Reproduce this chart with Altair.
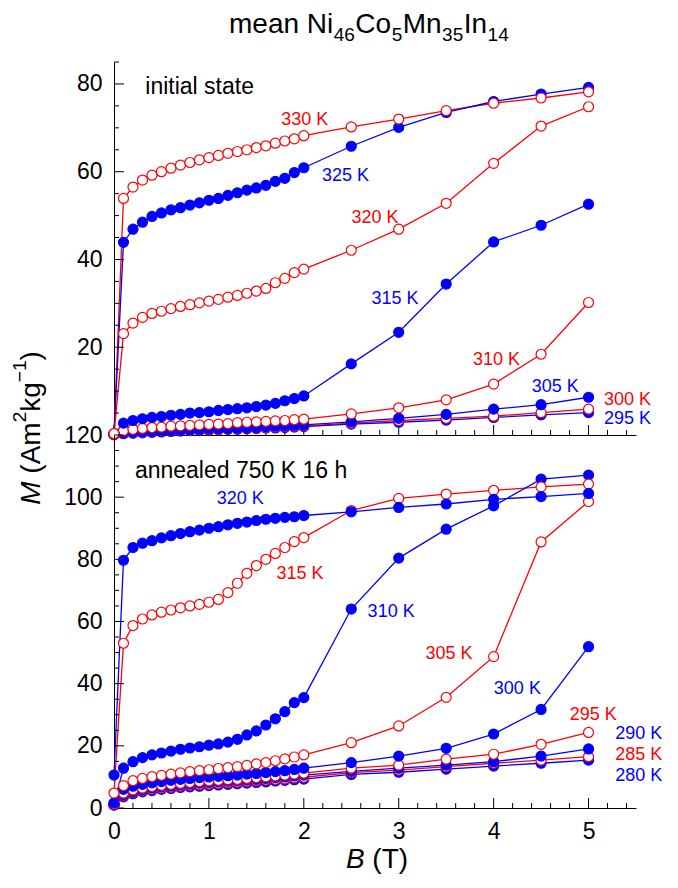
import altair as alt
import pandas as pd

FONT = "Liberation Sans"
W_PLOT = 522
H_PLOT = 373
LEFT = 114   # absolute x of plot left edge
TOP = 62     # absolute y of top panel top edge

RED = "#ff0000"
BLUE = "#0000ff"

# ---------------- data ----------------
B = [0.0, 0.1, 0.2, 0.3, 0.4, 0.5, 0.6, 0.7, 0.8, 0.9, 1.0, 1.1, 1.2, 1.3, 1.4,
     1.5, 1.6, 1.7, 1.8, 1.9, 2.0, 2.5, 3.0, 3.5, 4.0, 4.5, 5.0]

# initial state
init_330 = [0.3, 53.9, 56.5, 58.1, 59.2, 60.0, 60.8, 61.5, 62.1, 62.7, 63.2, 63.7, 64.2, 64.6,
            65.0, 65.5, 65.9, 66.5, 67.0, 67.5, 68.2, 70.2, 72.0, 73.9, 75.6, 76.8, 78.2]
init_325 = [0.3, 43.9, 46.9, 48.5, 49.8, 50.6, 51.3, 51.8, 52.4, 52.9, 53.5, 53.9, 54.6, 55.2,
            55.8, 56.3, 56.9, 57.8, 58.5, 59.8, 60.9, 65.8, 70.1, 73.5, 76.0, 77.7, 79.2]
init_320 = [0.2, 23.1, 25.5, 26.8, 27.7, 28.2, 28.8, 29.3, 29.7, 30.1, 30.5, 30.9, 31.4, 31.8,
            32.3, 32.8, 33.4, 34.7, 35.7, 37.0, 37.8, 42.1, 46.9, 52.8, 61.9, 70.4, 74.8]
init_315 = [0.2, 2.7, 3.3, 3.7, 4.0, 4.2, 4.5, 4.7, 5.0, 5.1, 5.3, 5.6, 5.8, 6.0,
            6.2, 6.5, 6.8, 7.2, 7.8, 8.3, 8.9, 16.2, 23.4, 34.4, 44.0, 47.8, 52.6]
init_310 = [0.1, 1.0, 1.3, 1.5, 1.7, 1.8, 2.0, 2.1, 2.2, 2.3, 2.4, 2.5, 2.6, 2.8,
            2.9, 3.0, 3.1, 3.2, 3.3, 3.5, 3.6, 4.8, 6.2, 8.0, 11.6, 18.4, 30.2]
init_305 = [0.1, 0.5, 0.6, 0.7, 0.8, 0.9, 1.0, 1.1, 1.2, 1.3, 1.4, 1.5, 1.5, 1.6,
            1.7, 1.8, 1.9, 2.0, 2.1, 2.2, 2.3, 3.0, 3.8, 4.7, 5.9, 6.9, 8.6]
init_300 = [0.1, 0.4, 0.5, 0.6, 0.7, 0.8, 0.9, 1.0, 1.1, 1.2, 1.2, 1.3, 1.4, 1.5,
            1.6, 1.7, 1.7, 1.8, 1.9, 2.0, 2.1, 2.7, 3.3, 3.8, 4.3, 5.1, 5.9]
init_295 = [0.1, 0.3, 0.4, 0.5, 0.6, 0.7, 0.8, 0.9, 1.0, 1.0, 1.1, 1.2, 1.3, 1.3,
            1.4, 1.5, 1.6, 1.6, 1.7, 1.8, 1.9, 2.5, 2.9, 3.4, 4.0, 4.6, 5.1]

# annealed 750 K 16 h
ann_320 = [10.6, 79.7, 83.8, 85.2, 86.0, 86.9, 87.6, 88.3, 88.9, 89.4, 90.0, 90.5, 91.1, 91.6,
           92.0, 92.5, 92.9, 93.2, 93.5, 93.7, 94.1, 95.3, 96.7, 97.8, 99.3, 100.2, 101.2]
ann_315 = [4.8, 53.0, 58.7, 60.8, 62.1, 63.0, 63.7, 64.4, 65.0, 65.5, 66.2, 67.1, 69.3, 72.3,
           75.5, 78.0, 80.0, 81.9, 83.8, 85.7, 87.0, 95.7, 99.6, 101.0, 102.2, 103.3, 104.2]
ann_310 = [1.6, 12.8, 14.9, 16.2, 17.1, 17.7, 18.3, 18.9, 19.3, 19.7, 20.2, 20.6, 21.2, 22.1,
           23.5, 24.8, 26.7, 28.7, 31.0, 33.9, 35.5, 64.0, 80.4, 89.7, 97.2, 105.8, 107.1]
ann_305 = [1.2, 7.2, 8.8, 9.5, 10.1, 10.5, 10.9, 11.3, 11.7, 12.0, 12.3, 12.7, 13.0, 13.3,
           13.7, 14.2, 14.6, 15.2, 15.8, 16.4, 17.1, 21.0, 26.4, 35.6, 48.7, 85.6, 98.6]
ann_300 = [1.0, 6.0, 7.0, 7.6, 8.1, 8.5, 8.9, 9.2, 9.5, 9.8, 10.0, 10.2, 10.4, 10.6,
           10.9, 11.1, 11.4, 11.7, 12.0, 12.4, 12.8, 14.6, 16.7, 19.2, 23.8, 31.7, 51.9]
ann_295 = [1.0, 4.8, 5.8, 6.4, 6.9, 7.3, 7.6, 7.9, 8.2, 8.5, 8.7, 8.9, 9.1, 9.2,
           9.5, 9.8, 10.0, 10.3, 10.6, 10.9, 11.2, 12.8, 13.8, 15.7, 17.3, 20.5, 24.3]
ann_290 = [1.0, 4.3, 5.3, 5.9, 6.4, 6.8, 7.1, 7.4, 7.7, 8.0, 8.2, 8.4, 8.6, 8.8,
           9.0, 9.2, 9.5, 9.8, 10.0, 10.3, 10.6, 11.8, 12.8, 13.8, 14.9, 16.7, 19.0]
ann_285 = [1.0, 4.0, 5.0, 5.6, 6.0, 6.4, 6.7, 7.0, 7.3, 7.5, 7.7, 7.9, 8.1, 8.3,
           8.5, 8.7, 9.0, 9.2, 9.4, 9.7, 9.9, 11.4, 12.2, 13.3, 14.4, 15.4, 16.5]
ann_280 = [1.0, 3.6, 4.6, 5.2, 5.6, 6.0, 6.3, 6.6, 6.8, 7.0, 7.2, 7.4, 7.6, 7.8,
           8.0, 8.2, 8.4, 8.7, 8.9, 9.1, 9.3, 10.8, 11.5, 12.5, 13.5, 14.4, 15.4]

top_temps = [330, 325, 320, 315, 310, 305, 300, 295]
top_kinds = ["red", "blue", "red", "blue", "red", "blue", "red", "blue"]
top_series = [init_330, init_325, init_320, init_315, init_310, init_305, init_300, init_295]

bot_temps = [320, 315, 310, 305, 300, 295, 290, 285, 280]
bot_kinds = ["blue", "red", "blue", "red", "blue", "red", "blue", "red", "blue"]
bot_series = [ann_320, ann_315, ann_310, ann_305, ann_300, ann_295, ann_290, ann_285, ann_280]

# curve labels (positions in data units)
top_label_B = [2.01, 2.44, 2.75, 2.96, 4.03, 4.65, 5.41, 5.41]
top_label_M = [71.8, 59.0, 49.4, 31.1, 17.1, 11.0, 8.0, 3.7]
bot_label_B = [1.33, 1.96, 2.92, 3.53, 4.25, 5.05, 5.53, 5.53, 5.53]
bot_label_M = [99.4, 75.3, 63.1, 49.6, 38.3, 29.9, 23.8, 17.1, 10.3]

# tick values
x_major = [0, 1, 2, 3, 4, 5]
x_minor = [round(0.2 * i, 1) for i in range(1, 28) if i % 5 != 0]
top_y_labels = [20, 40, 60, 80]
top_y_major = [0, 20, 40, 60, 80]
top_y_minor = [v for v in range(5, 90, 5) if v % 20 != 0]
bot_y_labels = [0, 20, 40, 60, 80, 100, 120]
bot_y_major = [0, 20, 40, 60, 80, 100, 120]
bot_y_minor = [v for v in range(5, 120, 5) if v % 20 != 0]

# ---------------- helpers ----------------
WID = {"m": 833, "e": 556, "a": 556, "n": 556, " ": 278, "N": 722, "i": 222, "C": 722,
       "o": 556, "M": 833, "I": 278, "(": 333, ")": 333, "A": 667, "k": 500, "g": 556,
       "\u2212": 584, "B": 667, "T": 611}
for d in "0123456789":
    WID[d] = 556


def tw(s, fs):
    return sum(WID.get(c, 556) for c in s) * fs / 1000.0


one = pd.DataFrame({"a": [0]})


def ptext(s, x, y, fs, italic=False, angle=None, color="black", align="left"):
    kw = dict(text=s, font=FONT, fontSize=fs, color=color, align=align, baseline="alphabetic")
    if italic:
        kw["fontStyle"] = "italic"
    if angle is not None:
        kw["angle"] = angle
    return alt.Chart(one).mark_text(**kw).encode(x=alt.value(x), y=alt.value(y))


def long_df(temps, kinds, series):
    rows = []
    for t, k, vals in zip(temps, kinds, series):
        for b, m in zip(B, vals):
            rows.append({"B": b, "M": m, "T": t, "kind": k})
    return pd.DataFrame(rows)


stroke_scale = alt.Scale(domain=["red", "blue"], range=[RED, BLUE])
fill_scale = alt.Scale(domain=["red", "blue"], range=["white", BLUE])
xscale = alt.Scale(domain=[0, 5.5], nice=False, zero=False)


def panel(temps, kinds, series, ymax, ylabels, ymaj, ymin, show_xlabels,
          lab_B, lab_M, note, note_B, note_M, extras):
    df = long_df(temps, kinds, series)
    yscale = alt.Scale(domain=[0, ymax], nice=False)
    if show_xlabels:
        xaxis = alt.Axis(values=x_major, format="d", title=None, labelFlush=False)
    else:
        xaxis = alt.Axis(values=x_major, labels=False, title=None)
    yaxis = alt.Axis(values=ylabels, format="d", title=None, labelFlush=False)

    X = lambda: alt.X("B:Q", scale=xscale, axis=xaxis)
    Y = lambda: alt.Y("M:Q", scale=yscale, axis=yaxis)

    lines = alt.Chart(df).mark_line(strokeWidth=1.3).encode(
        x=X(), y=Y(),
        color=alt.Color("kind:N", scale=stroke_scale, legend=None),
        detail="T:N",
    )
    pts = alt.Chart(df).mark_point(shape="circle", filled=True, size=100, strokeWidth=1.2,
                                   opacity=1).encode(
        x=X(), y=Y(),
        fill=alt.Fill("kind:N", scale=fill_scale, legend=None),
        stroke=alt.Stroke("kind:N", scale=stroke_scale, legend=None),
        order=alt.Order("T:Q", sort="ascending"),
    )
    ldf = pd.DataFrame({"B": lab_B, "M": lab_M,
                        "label": [f"{t} K" for t in temps], "kind": kinds})
    labels = alt.Chart(ldf).mark_text(font=FONT, fontSize=18, align="center",
                                      baseline="middle").encode(
        x=X(), y=Y(),
        text="label:N",
        color=alt.Color("kind:N", scale=stroke_scale, legend=None),
    )
    ndf = pd.DataFrame({"B": [note_B], "M": [note_M], "label": [note]})
    notes = alt.Chart(ndf).mark_text(font=FONT, fontSize=23, align="left",
                                     baseline="middle", color="black").encode(
        x=X(), y=Y(), text="label:N",
    )
    # inward ticks
    ymaj_r = alt.Chart(pd.DataFrame({"M": ymaj})).mark_rule(color="black", strokeWidth=1).encode(
        y=Y(), x=alt.value(0), x2=alt.value(10))
    ymin_r = alt.Chart(pd.DataFrame({"M": ymin})).mark_rule(color="black", strokeWidth=1).encode(
        y=Y(), x=alt.value(0), x2=alt.value(5))
    xmaj_r = alt.Chart(pd.DataFrame({"B": x_major})).mark_rule(color="black", strokeWidth=1).encode(
        x=X(), y=alt.value(H_PLOT), y2=alt.value(H_PLOT - 10))
    xmin_r = alt.Chart(pd.DataFrame({"B": x_minor})).mark_rule(color="black", strokeWidth=1).encode(
        x=X(), y=alt.value(H_PLOT), y2=alt.value(H_PLOT - 5))

    return alt.layer(lines, ymaj_r, ymin_r, xmaj_r, xmin_r, pts, labels, notes, *extras).properties(
        width=W_PLOT, height=H_PLOT)


# ---------------- title (top panel coords) ----------------
title_parts = [("mean Ni", 28, False), ("46", 19, True), ("Co", 28, False), ("5", 19, True),
               ("Mn", 28, False), ("35", 19, True), ("In", 28, False), ("14", 19, True)]
title_x0 = 229 - LEFT
main_base = 33 - TOP
sub_base = 41 - TOP
extras_top = []
cx = title_x0
for s, fs, sub in title_parts:
    extras_top.append(ptext(s, cx, sub_base if sub else main_base, fs))
    cx += tw(s, fs) + 0.5

# ---------------- y-axis title (rotated) ----------------
yt_parts = [("M", 28, "main", True), (" ", 28, "gap", False), ("(Am", 28, "main", False),
            ("2", 19, "sup", False), ("kg", 28, "main", False), ("\u22121", 19, "sup", False),
            (")", 28, "main", False)]
yt_len = sum(tw(s, fs) for s, fs, _, _ in yt_parts)
yt_center = 428
yy = yt_center + yt_len / 2 - TOP
base_main_x = 40 - LEFT
base_sup_x = 26 - LEFT
for s, fs, kind, it in yt_parts:
    if kind != "gap":
        extras_top.append(ptext(s, base_sup_x if kind == "sup" else base_main_x, yy, fs,
                                italic=it, angle=270))
    yy -= tw(s, fs)

# anchor (defines top-left of the whole drawing), invisible
extras_top.append(alt.Chart(one).mark_rule(color="white", strokeWidth=1).encode(
    x=alt.value(-LEFT + 0.5), y=alt.value(-TOP + 0.5), y2=alt.value(-TOP + 2)))

# ---------------- x-axis title (bottom panel coords) ----------------
xt_parts = [("B", 28, True), (" ", 28, False), ("(T)", 28, False)]
xt_len = sum(tw(s, fs) for s, fs, _ in xt_parts)
xx = 377 - xt_len / 2 - LEFT
extras_bot = []
for s, fs, it in xt_parts:
    if s != " ":
        extras_bot.append(ptext(s, xx, 868 - TOP - H_PLOT, fs, italic=it))
    xx += tw(s, fs)

top = panel(top_temps, top_kinds, top_series, 85, top_y_labels, top_y_major, top_y_minor, False,
            top_label_B, top_label_M, "initial state", 0.33, 79.3, extras_top)
bottom = panel(bot_temps, bot_kinds, bot_series, 120, bot_y_labels, bot_y_major, bot_y_minor, True,
               bot_label_B, bot_label_M, "annealed 750 K 16 h", 0.22, 108.4, extras_bot)

chart = alt.vconcat(top, bottom, spacing=0, bounds="flush").properties(
    padding=0, background="white"
).configure_view(stroke=None).configure_axis(
    domainColor="black", domainWidth=1, ticks=False, tickSize=0, grid=False,
    labelFont=FONT, labelFontSize=23, labelColor="black", labelPadding=12,
)

chart.save("out.html", embed_options={"renderer": "svg", "actions": False})
